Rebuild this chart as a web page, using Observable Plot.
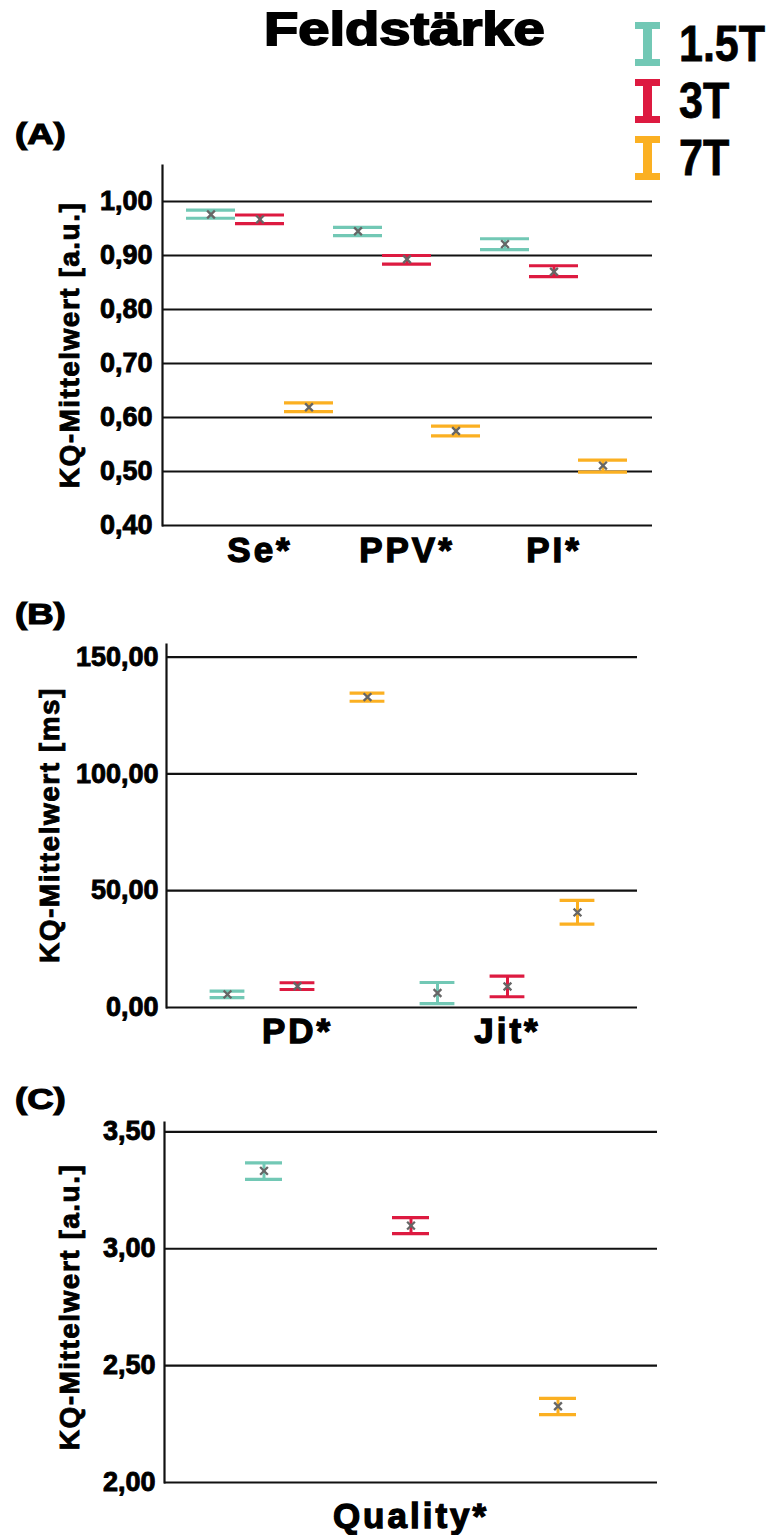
<!DOCTYPE html>
<html><head><meta charset="utf-8">
<script src="https://cdn.jsdelivr.net/npm/d3@7"></script>
<script src="https://cdn.jsdelivr.net/npm/@observablehq/plot@0.6"></script>
<style>
body{margin:0;background:#fff;}
#root{position:relative;width:778px;height:1535px;overflow:hidden;font-family:"Liberation Sans",Arial,sans-serif;font-weight:bold;color:#000;}
.abs{position:absolute;white-space:nowrap;line-height:1;-webkit-text-stroke:1.2px #000;}
.panel{position:absolute;left:0;}
.panel svg{overflow:visible;}
.panel svg text{stroke:#000;stroke-width:0.9px;}
.ylab{position:absolute;white-space:nowrap;font-size:28px;letter-spacing:1.5px;transform:translate(-50%,-50%) rotate(-90deg);line-height:1;-webkit-text-stroke:0.9px #000;}
.legrow{position:absolute;left:635px;height:44px;display:flex;align-items:center;}
.legrow span{font-weight:bold;font-size:50px;margin-left:19px;line-height:1;display:inline-block;transform-origin:0 50%;transform:scaleX(0.86);-webkit-text-stroke:0.8px #000;}
</style></head><body><div id="root"></div>
<script>
// ---------- data ----------
const fields = ["1.5T", "3T", "7T"];
const fieldColors = ["#72c8b5", "#dd1a40", "#fbb022"];

// Panel A (rows: 1.5T, 3T, 7T ; columns: categories)
const catsA = ["Se*", "PPV*", "PI*"];
const meanA = [[0.976, 0.945, 0.921], [0.967, 0.893, 0.870], [0.619, 0.575, 0.511]];
const lowA  = [[0.969, 0.937, 0.911], [0.959, 0.884, 0.861], [0.611, 0.566, 0.499]];
const highA = [[0.984, 0.952, 0.931], [0.975, 0.900, 0.881], [0.627, 0.584, 0.521]];
const ticksA = [0.4, 0.5, 0.6, 0.7, 0.8, 0.9, 1.0];

// Panel B
const catsB = ["PD*", "Jit*"];
const meanB = [[5.6, 6.2], [9.1, 9.0], [132.9, 40.7]];
const lowB  = [[4.2, 1.7], [7.7, 4.6], [131.1, 35.7]];
const highB = [[7.0, 10.7], [10.6, 13.4], [134.6, 45.9]];
const ticksB = [0, 50, 100, 150];

// Panel C
const catsC = ["Quality*"];
const meanC = [[3.333], [3.099], [2.326]];
const lowC  = [[3.297], [3.065], [2.290]];
const highC = [[3.367], [3.133], [2.360]];
const ticksC = [2.0, 2.5, 3.0, 3.5];

// ---------- drawing ----------
const root = document.getElementById("root");
const fmt = d => d.toFixed(2).replace(".", ",");
const FONT = '"Liberation Sans", Arial, sans-serif';

function panel(o) {
  const rows = [];
  o.cats.forEach((c, i) => fields.forEach((f, j) => rows.push({
    cat: c, field: f, key: c + "|" + f, mean: o.mean[j][i], lo: o.lo[j][i], hi: o.hi[j][i]
  })));
  const keys = rows.map(d => d.key);
  const mids = o.cats.map(c => c + "|" + fields[1]);
  const svg = Plot.plot({
    width: 778, height: o.height,
    marginLeft: o.mL, marginRight: o.mR, marginTop: o.mT, marginBottom: o.mB,
    style: {fontFamily: FONT, fontWeight: "bold", background: "transparent", color: "#000"},
    x: {type: "band", domain: keys, range: o.xRange, padding: 0, axis: null},
    y: {domain: o.yDomain, axis: null},
    color: {domain: fields, range: fieldColors},
    marks: [
      Plot.ruleY(o.ticks, {stroke: "#111", strokeWidth: 2.2}),
      Plot.frame({anchor: "left", stroke: "#111", strokeWidth: 2.2}),
      Plot.axisY(o.ticks, {tickSize: 0, tickPadding: o.yPad, tickFormat: fmt, fontSize: 27, fontWeight: "bold", label: null, fill: "#000"}),
      Plot.axisX(mids, {tickSize: 0, tickPadding: o.xPad, tickFormat: d => d.split("|")[0], fontSize: 35, fontWeight: "bold", label: null, fill: "#000"}),
      Plot.ruleX(rows, {x: "key", y1: "lo", y2: "hi", stroke: "field", strokeWidth: 3}),
      Plot.tickY(rows, {x: "key", y: "lo", stroke: "field", strokeWidth: 3.2, insetLeft: o.inset, insetRight: o.inset}),
      Plot.tickY(rows, {x: "key", y: "hi", stroke: "field", strokeWidth: 3.2, insetLeft: o.inset, insetRight: o.inset}),
      Plot.dot(rows, {x: "key", y: "mean", symbol: "times", r: 3.6, stroke: "#666", strokeWidth: 2.3})
    ]
  });
  svg.querySelectorAll('[aria-label="x-axis tick label"] text').forEach(t => { t.style.letterSpacing = "3px"; t.style.strokeWidth = "1.3px"; });
  const div = document.createElement("div");
  div.className = "panel";
  div.style.top = o.top + "px";
  div.appendChild(svg);
  root.appendChild(div);
}

panel({cats: catsA, mean: meanA, lo: lowA, hi: highA, ticks: ticksA, yDomain: [0.4, 1.0667],
  top: 150, height: 425, mL: 162, mR: 126, mT: 15, mB: 50, xRange: [186, 627], inset: 0, yPad: 10, xPad: 12});
panel({cats: catsB, mean: meanB, lo: lowB, hi: highB, ticks: ticksB, yDomain: [0, 155.4],
  top: 630, height: 427, mL: 166, mR: 141, mT: 14, mB: 50, xRange: [190, 613.5], inset: 17.6, yPad: 8, xPad: 11});
panel({cats: catsC, mean: meanC, lo: lowC, hi: highC, ticks: ticksC, yDomain: [2, 3.54],
  top: 1110, height: 425, mL: 164, mR: 121, mT: 12, mB: 53, xRange: [189.3, 631.5], inset: 55, yPad: 9, xPad: 21});

// title and panel letters
function addText(txt, left, top, size, sx, stroke) {
  const d = document.createElement("div");
  d.className = "abs";
  d.textContent = txt;
  d.style.left = left + "px";
  d.style.top = top + "px";
  d.style.fontSize = size + "px";
  d.style.transformOrigin = "0 0";
  d.style.transform = `scaleX(${sx})`;
  if (stroke) d.style.webkitTextStroke = stroke + "px #000";
  root.appendChild(d);
  return d;
}
addText("Feldstärke", 264, 6, 46, 1.22, 1.8);
addText("(A)", 15, 119, 30, 1.22);
addText("(B)", 15, 599, 30, 1.22);
addText("(C)", 15, 1084, 30, 1.22);

// y labels
[["KQ-Mittelwert [a.u.]", 70, 345], ["KQ-Mittelwert [ms]", 50, 825], ["KQ-Mittelwert [a.u.]", 70, 1307]].forEach(([t, x, y]) => {
  const d = document.createElement("div");
  d.className = "ylab";
  d.textContent = t;
  d.style.left = x + "px";
  d.style.top = y + "px";
  root.appendChild(d);
});

// legend
fields.forEach((f, i) => {
  const row = document.createElement("div");
  row.className = "legrow";
  row.style.top = (22 + i * 57) + "px";
  const c = fieldColors[i];
  row.innerHTML = `<svg width="25" height="44"><rect x="0" y="0" width="25" height="7" fill="${c}"/><rect x="8" y="0" width="9" height="44" fill="${c}"/><rect x="0" y="37" width="25" height="7" fill="${c}"/></svg><span>${f}</span>`;
  root.appendChild(row);
});
</script></body></html>
